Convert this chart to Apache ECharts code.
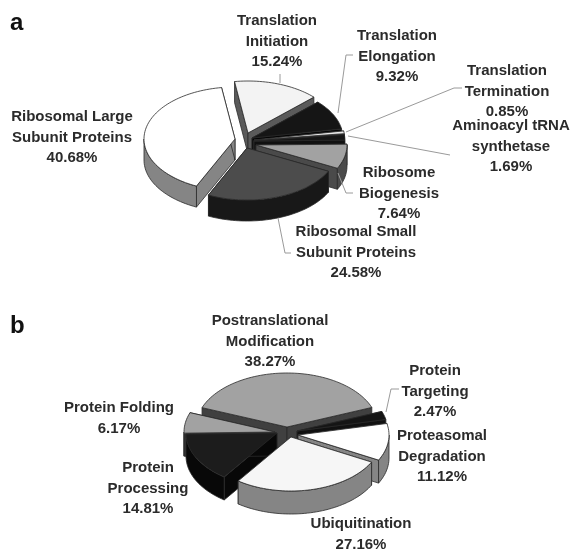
<!DOCTYPE html>
<html>
<head>
<meta charset="utf-8">
<style>
  html, body { margin: 0; background: #fff; }
  #main { width: 572px; height: 549px; }
</style>
<script src="https://cdn.jsdelivr.net/npm/echarts@6/dist/echarts.min.js"></script>
</head>
<body>
<div id="main"></div>
<script>
// panel a
const namesA = ['Translation\nInitiation', 'Translation\nElongation', 'Translation\nTermination',
  'Aminoacyl tRNA\nsynthetase', 'Ribosome\nBiogenesis', 'Ribosomal Small\nSubunit Proteins', 'Ribosomal Large\nSubunit Proteins'];
const valuesA = [15.24, 9.32, 0.85, 1.69, 7.64, 24.58, 40.68];

// panel b
const namesB = ['Postranslational\nModification', 'Protein\nTargeting', 'Proteasomal\nDegradation',
  'Ubiquitination', 'Protein\nProcessing', 'Protein Folding'];
const valuesB = [38.27, 2.47, 11.12, 27.16, 14.81, 6.17];

// look of each pie, one entry per slice: apex, top colour, wall colour, label spot, leader line
const styleA = {
  start: -8.5, rx: 91, ry: 52, depth: 21,
  slices: [
    { apex: [248, 133], top: '#f3f3f3', wall: '#5a5a5a', label: [277, 21], leader: [[280, 74], [280, 83]] },
    { apex: [252, 138], top: '#151515', wall: '#050505', label: [397, 36], leader: [[353, 55], [346, 55], [338, 113]] },
    { apex: [254, 140], top: '#e8e8e8', wall: '#333', label: [507, 71], leader: [[462, 88], [454, 88], [346, 132]] },
    { apex: [254, 141], top: '#151515', wall: '#111', label: [511, 126], leader: [[450, 155], [348, 136]] },
    { apex: [256, 145], top: '#a2a2a2', wall: '#4a4a4a', label: [399, 173], leader: [[353, 193], [346, 193], [338, 173]] },
    { apex: [247, 148], top: '#4c4c4c', wall: '#181818', label: [356, 232], leader: [[291, 253], [285, 253], [278, 218]] },
    { apex: [235, 139], top: '#ffffff', wall: '#858585', label: [72, 117], leader: null }
  ]
};
const styleB = {
  start: -69, rx: 91, ry: 54, depth: 23,
  slices: [
    { apex: [287, 427], top: '#a2a2a2', wall: '#404040', label: [270, 321], leader: null },
    { apex: [297, 431], top: '#151515', wall: '#111', label: [435, 371], leader: [[399, 389], [391, 389], [386, 412]] },
    { apex: [298, 435], top: '#ffffff', wall: '#858585', label: [442, 436], leader: null },
    { apex: [291, 437], top: '#f6f6f6', wall: '#858585', label: [361, 524], leader: null },
    { apex: [277, 433], top: '#1c1c1c', wall: '#080808', label: [148, 468], leader: null },
    { apex: [275, 432], top: '#a2a2a2', wall: '#404040', label: [119, 408], leader: null }
  ]
};

const RAD = Math.PI / 180;

function makeRender(names, values, look) {
  // cumulative angles, clockwise from the top of the pie
  const total = values.reduce((a, b) => a + b, 0);
  let run = look.start;
  const ranges = values.map(v => {
    const from = run;
    run += v / total * 360;
    return [from, run];
  });
  // painter's order: slices at the back first
  const order = ranges
    .map((r, i) => ({ i, y: -Math.cos((r[0] + r[1]) / 2 * RAD) }))
    .sort((a, b) => a.y - b.y)
    .map(o => o.i);

  const rim = (apex, deg, down) => [
    apex[0] + look.rx * Math.sin(deg * RAD),
    apex[1] - look.ry * Math.cos(deg * RAD) + (down || 0)
  ];
  const arc = (apex, from, to, down) => {
    const pts = [];
    const n = Math.max(2, Math.ceil((to - from) / 2));
    for (let k = 0; k <= n; k++) pts.push(rim(apex, from + (to - from) * k / n, down));
    return pts;
  };

  return function (params, api) {
    const i = params.dataIndex;
    const value = api.value(0);
    const s = look.slices[i];
    const [from, to] = ranges[i];
    const d = look.depth;
    const z = 10 + order.indexOf(i) * 5;
    const edge = { stroke: '#2a2a2a', lineWidth: 0.8 };
    const kids = [];

    const sideWall = deg => ({
      type: 'polygon', z2: z,
      shape: { points: [s.apex, rim(s.apex, deg), rim(s.apex, deg, d), [s.apex[0], s.apex[1] + d]] },
      style: Object.assign({ fill: s.wall }, edge)
    });
    kids.push(sideWall(from), sideWall(to));

    // the outer wall only shows on the near half of the rim
    const a = Math.max(from, 90), b = Math.min(to, 270);
    if (b > a) {
      kids.push({
        type: 'polygon', z2: z + 1,
        shape: { points: arc(s.apex, a, b, 0).concat(arc(s.apex, a, b, d).reverse()) },
        style: Object.assign({ fill: s.wall }, edge)
      });
    }
    kids.push({
      type: 'polygon', z2: z + 2,
      shape: { points: [s.apex].concat(arc(s.apex, from, to, 0)) },
      style: Object.assign({ fill: s.top }, edge)
    });

    if (s.leader) {
      kids.push({
        type: 'polyline', z2: 90,
        shape: { points: s.leader },
        style: { fill: 'none', stroke: '#9a9a9a', lineWidth: 1 }
      });
    }
    kids.push({
      type: 'text', z2: 100,
      x: s.label[0], y: s.label[1] - 10,
      style: {
        text: names[i] + '\n' + value.toFixed(2) + '%',
        fill: '#2b2b2b',
        font: 'bold 15px "Liberation Sans", Arial, sans-serif',
        lineHeight: 20.5,
        align: 'center',
        verticalAlign: 'top'
      }
    });
    return { type: 'group', children: kids };
  };
}

const chart = echarts.init(document.getElementById('main'));
chart.setOption({
  animation: false,
  backgroundColor: '#fff',
  title: [
    { text: 'a', left: 5, top: 6, textStyle: { fontSize: 24, fontWeight: 'bold', color: '#111', fontFamily: 'Liberation Sans' } },
    { text: 'b', left: 5, top: 309, textStyle: { fontSize: 24, fontWeight: 'bold', color: '#111', fontFamily: 'Liberation Sans' } }
  ],
  series: [
    { type: 'custom', coordinateSystem: 'none', silent: true, data: valuesA, renderItem: makeRender(namesA, valuesA, styleA) },
    { type: 'custom', coordinateSystem: 'none', silent: true, data: valuesB, renderItem: makeRender(namesB, valuesB, styleB) }
  ]
});
</script>
</body>
</html>
